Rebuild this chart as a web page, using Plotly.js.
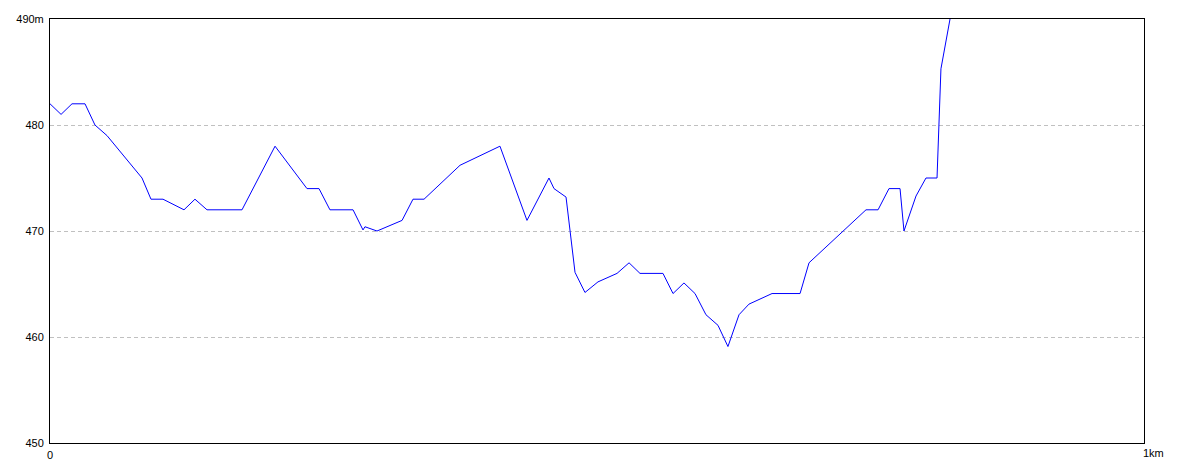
<!DOCTYPE html>
<html>
<head>
<meta charset="utf-8">
<script src="https://cdn.plot.ly/plotly-3.0.1.min.js"></script>
<style>
html,body{margin:0;padding:0;background:#fff;}
#chart{width:1184px;height:473px;}
</style>
</head>
<body>
<div id="chart"></div>
<script>
// distance along the route (km)
var distanceKm = [0, 0.0101, 0.0201, 0.0320, 0.0411, 0.0521, 0.0841, 0.0923, 0.1033, 0.1225,
  0.1325, 0.1435, 0.1755, 0.2057, 0.2349, 0.2459, 0.2559, 0.2770, 0.2861, 0.2879,
  0.2989, 0.3218, 0.3318, 0.3419, 0.3748, 0.4113, 0.4360, 0.4561, 0.4607, 0.4717,
  0.4799, 0.4890, 0.5009, 0.5183, 0.5293, 0.5393, 0.5603, 0.5695, 0.5795, 0.5896,
  0.5996, 0.6106, 0.6197, 0.6298, 0.6389, 0.6600, 0.6856, 0.6938, 0.7011, 0.7267,
  0.7459, 0.7569, 0.7669, 0.7770, 0.7806, 0.7916, 0.8007, 0.8108, 0.8144, 0.8227, 0.8245];
// elevation (m)
var elevationM = [482, 481, 482, 482, 480, 479, 475, 473, 473, 472,
  473, 472, 472, 478, 474, 474, 472, 472, 470.1, 470.4,
  470, 471, 473, 473, 476.2, 478, 471, 475, 474, 473.2,
  466.1, 464.2, 465.2, 466, 467, 466, 466, 464.1, 465.1, 464.1,
  462.1, 461.1, 459.1, 462.1, 463.1, 464.1, 464.1, 467, 467.7, 470.2,
  472, 472, 474, 474, 470, 473.3, 475, 475, 485.3, 490, 491];
var yTickVals = [450, 460, 470, 480, 490];
var yTickText = ['450', '460', '470', '480', '490m'];
var xTickVals = [0];
var xTickText = ['0'];
var xEndLabel = '1km';

var trace = {
  x: distanceKm, y: elevationM, type: 'scatter', mode: 'lines',
  line: {color: '#0000ff', width: 1}, hoverinfo: 'skip'
};
var layout = {
  width: 1184, height: 473,
  margin: {l: 50, r: 40, t: 19, b: 30, pad: 0},
  paper_bgcolor: '#ffffff', plot_bgcolor: '#ffffff',
  showlegend: false,
  font: {family: 'Liberation Sans, Arial, sans-serif', size: 11, color: '#000'},
  xaxis: {
    range: [0, 1], fixedrange: true,
    tickvals: xTickVals, ticktext: xTickText,
    ticks: '', showgrid: false, zeroline: false,
    showline: true, mirror: true, linecolor: '#000', linewidth: 1,
    ticklabelstandoff: 2
  },
  yaxis: {
    range: [450, 490], fixedrange: true,
    tickvals: yTickVals, ticktext: yTickText,
    ticks: '', showgrid: true, gridcolor: '#c0c0c0', griddash: '4px,3px', gridwidth: 1,
    zeroline: false,
    showline: true, mirror: true, linecolor: '#000', linewidth: 1,
    ticklabelstandoff: 3
  },
  annotations: [{
    x: 1, y: 0, xref: 'x', yref: 'paper', xanchor: 'left', yanchor: 'top',
    text: xEndLabel, showarrow: false, xshift: -3, yshift: -2,
    font: {family: 'Liberation Sans, Arial, sans-serif', size: 11, color: '#000'}
  }]
};
Plotly.newPlot('chart', [trace], layout, {staticPlot: true, displayModeBar: false});
</script>
</body>
</html>
